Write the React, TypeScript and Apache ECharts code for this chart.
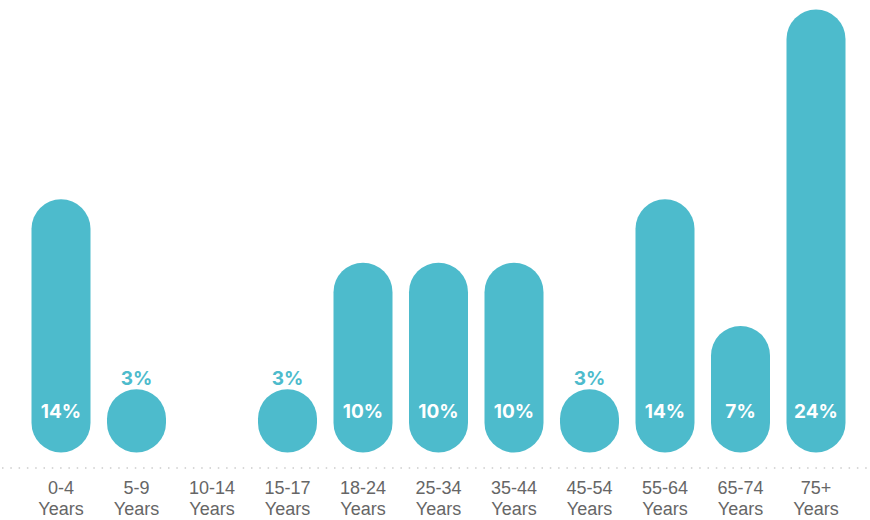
import React, { useEffect, useRef } from "react";
import * as echarts from "echarts";

const categories = ["0-4", "5-9", "10-14", "15-17", "18-24", "25-34", "35-44", "45-54", "55-64", "65-74", "75+"];
const counts = [4, 1, 0, 1, 3, 3, 3, 1, 4, 2, 7];
const total = counts.reduce((a, b) => a + b, 0);

const TEAL = "#4dbbcc";

export default function App() {
  const ref = useRef<HTMLDivElement>(null);
  useEffect(() => {
    if (!ref.current) return;
    const chart = echarts.init(ref.current, null, { renderer: "svg" });
    const data = counts.map((c) => {
      const pct = Math.round((c / total) * 100) + "%";
      if (c === 0) {
        return { value: c, itemStyle: { opacity: 0 }, label: { show: false } };
      }
      if (c <= 1) {
        return {
          value: c,
          label: {
            show: true,
            position: "top",
            distance: 1,
            color: TEAL,
            formatter: pct,
          },
        };
      }
      return {
        value: c,
        label: {
          show: true,
          position: "insideBottom",
          distance: 31.5,
          color: "#ffffff",
          formatter: pct,
        },
      };
    });
    chart.setOption({
      animation: false,
      grid: { left: 23.25, right: 16.25, top: 9.5, bottom: 62.5 },
      xAxis: {
        type: "category",
        data: categories.map((c) => c + "\nYears"),
        axisLine: { show: false },
        axisTick: { show: false },
        axisLabel: {
          margin: 24.5,
          color: "#666666",
          fontSize: 18,
          lineHeight: 21.5,
          fontFamily: "Liberation Sans, Arial, sans-serif",
          interval: 0,
        },
      },
      yAxis: {
        type: "value",
        min: 0,
        max: 7,
        show: false,
        splitLine: { show: false },
      },
      series: [
        {
          type: "bar",
          data,
          barWidth: 59,
          itemStyle: { color: TEAL, borderRadius: 29.5 },
          label: {
            fontSize: 19,
            lineHeight: 19,
            fontWeight: "bold",
            fontFamily: "Inter, Lato, sans-serif",
          },
        },
      ],
      graphic: [
        {
          type: "line",
          shape: { x1: 2, y1: 468, x2: 868, y2: 468 },
          style: { stroke: "#cccccc", lineWidth: 1.5, lineDash: [1.5, 6.8] },
          silent: true,
        },
      ],
    });
    return () => chart.dispose();
  }, []);
  return <div ref={ref} style={{ width: 870, height: 520, position: "absolute", left: 0, top: 0 }} />;
}
